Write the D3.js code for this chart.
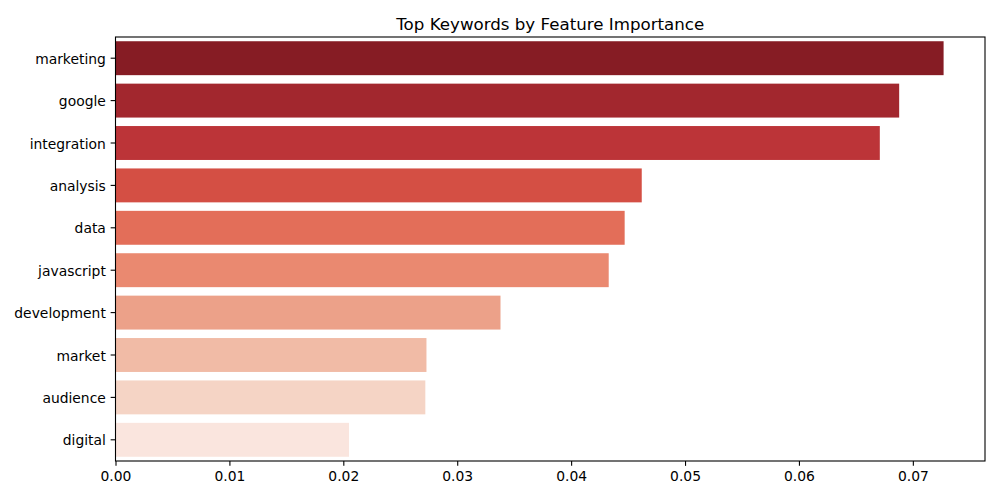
<!DOCTYPE html>
<html>
<head>
<meta charset="utf-8">
<script src="https://cdn.jsdelivr.net/npm/d3@7"></script>
<style>
  body { margin: 0; background: #fff; }
  text { font-family: "DejaVu Sans", sans-serif; fill: #000; }
</style>
</head>
<body>
<svg id="chart" width="1000" height="500"></svg>
<script>
var keywords = ['marketing', 'google', 'integration', 'analysis', 'data',
                'javascript', 'development', 'market', 'audience', 'digital'];
var importance = [0.0727, 0.0688, 0.0671, 0.0462, 0.0447,
                  0.0433, 0.0338, 0.0273, 0.0272, 0.0205];
var barColors = ['#861c24', '#a2272e', '#bc3438', '#d44f44', '#e36e59',
                 '#ea8970', '#eca189', '#f1bba6', '#f5d4c5', '#fae5de'];
var xTicks = [0, 0.01, 0.02, 0.03, 0.04, 0.05, 0.06, 0.07];

var margin = {top: 37, right: 15, bottom: 39, left: 115.5}
  , width = 1000 - margin.left - margin.right
  , height = 500 - margin.top - margin.bottom;

var svg = d3.select('#chart');
var g = svg.append('g')
    .attr('transform', 'translate(' + margin.left + ',' + margin.top + ')');

const xScale = d3.scaleLinear()
    .domain([0, d3.max(importance) * 1.05])
    .range([0, width]);

const yScale = d3.scaleBand()
    .domain(keywords)
    .range([0, height])
    .paddingInner(0.2)
    .paddingOuter(0.1);

g.selectAll('rect.bar')
  .data(keywords)
  .enter()
  .append('rect')
    .attr('class', 'bar')
    .attr('x', 0)
    .attr('y', function(d) { return yScale(d) })
    .attr('width', function(d, i) { return xScale(importance[i]) })
    .attr('height', yScale.bandwidth())
    .attr('fill', function(d, i) { return barColors[i] });

var xAxis = g.append('g')
    .attr('transform', 'translate(0,' + height + ')')
    .call(d3.axisBottom(xScale).tickValues(xTicks).tickFormat(d3.format('.2f'))
      .tickSize(4.86).tickPadding(4.8));

var yAxis = g.append('g')
    .call(d3.axisLeft(yScale).tickSize(4.86).tickPadding(4.8));

[xAxis, yAxis].forEach(function(a) {
  a.select('.domain').remove();
  a.selectAll('line').attr('stroke', '#000').attr('stroke-width', 1.1);
  a.selectAll('text').style('font-size', '13.89px').attr('fill', '#000');
});
xAxis.selectAll('text').attr('dy', '0.75em');
yAxis.selectAll('text').attr('dy', '0.4em');

// frame on all four sides
g.append('rect')
    .attr('width', width)
    .attr('height', height)
    .attr('fill', 'none')
    .attr('stroke', '#000')
    .attr('stroke-width', 1.1);

svg.append('text')
    .attr('x', margin.left + width / 2)
    .attr('y', margin.top - 7)
    .attr('text-anchor', 'middle')
    .style('font-size', '16.67px')
    .text('Top Keywords by Feature Importance');
</script>
</body>
</html>
